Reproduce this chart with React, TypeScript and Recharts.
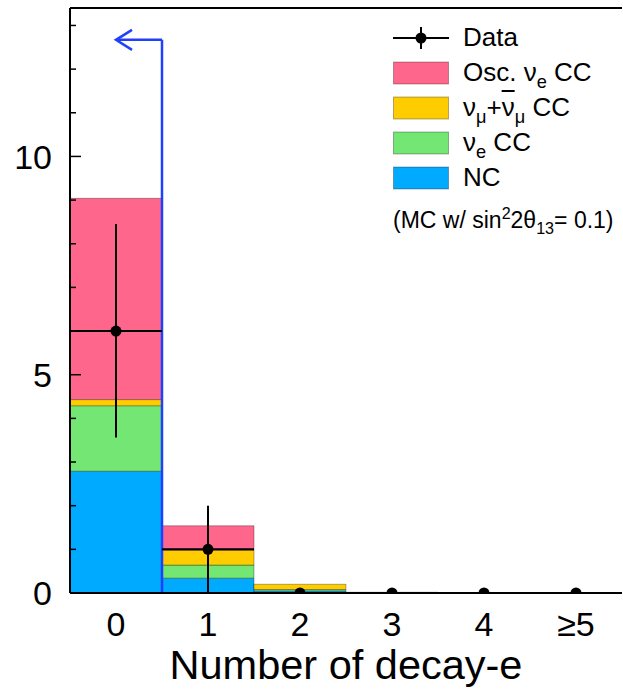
import React from "react";
import {
  ComposedChart,
  Bar,
  XAxis,
  YAxis,
  Scatter,
  ErrorBar,
  ReferenceLine,
  ReferenceDot,
  Legend,
} from "recharts";

// histogram bins (number of decay electrons)
const BINS = ["0", "1", "2", "3", "4", "≥5"];
const BIN_CENTERS = [0.5, 1.5, 2.5, 3.5, 4.5, 5.5];

// MC stack, bottom to top
const NC = [2.79, 0.34, 0.05, 0.004, 0.003, 0.002];
const NUE_CC = [1.5, 0.3, 0.03, 0.003, 0.002, 0.002];
const NUMU_CC = [0.14, 0.34, 0.12, 0.01, 0.006, 0.005];
const OSC_NUE = [4.61, 0.56, 0.0, 0.0, 0.0, 0.0];

// observed events
const DATA = [6, 1, 0, 0, 0, 0];
const ERR_LOW = [2.44, 1, 0, 0, 0, 0];
const ERR_HIGH = [2.45, 1, 0, 0, 0, 0];

const Y_MAX = 13.4;
const Y_TICKS = [0, 1, 2, 3, 4, 5, 6, 7, 8, 9, 10, 11, 12, 13];

// cut: keep events with <= 0 decay-e
const CUT_X = 1;
const CUT_TIP = 0.5;
const CUT_Y = 12.67;

const COLORS = {
  osc: "#ff668c",
  numu: "#ffcc00",
  nue: "#73e673",
  nc: "#00aaff",
  cut: "#2040ff",
};

const FONT = "'Liberation Sans', Arial, Helvetica, sans-serif";
const TICK_MARGIN = 18;

const chartData = BINS.map((bin, i) => ({
  bin,
  nc: NC[i],
  nue: NUE_CC[i],
  numu: NUMU_CC[i],
  osc: OSC_NUE[i],
}));

const pointData = BIN_CENTERS.map((x, i) => ({
  x,
  y: DATA[i],
  xerr: 0.5,
  yerr: [ERR_LOW[i], ERR_HIGH[i]],
}));

const Sub = ({ children }: { children: React.ReactNode }) => (
  <span style={{ fontSize: "0.7em", position: "relative", top: "0.4em" }}>
    {children}
  </span>
);
const Sup = ({ children }: { children: React.ReactNode }) => (
  <span style={{ fontSize: "0.7em", position: "relative", top: "-0.55em" }}>
    {children}
  </span>
);

const LEGEND_ORDER = ["y", "osc", "numu", "nue", "nc"];
const LEGEND_LABELS: Record<string, React.ReactNode> = {
  y: "Data",
  osc: (
    <>
      Osc. ν<Sub>e</Sub> CC
    </>
  ),
  numu: (
    <>
      ν<Sub>μ</Sub>+<span style={{ textDecoration: "overline" }}>ν</span>
      <Sub>μ</Sub> CC
    </>
  ),
  nue: (
    <>
      ν<Sub>e</Sub> CC
    </>
  ),
  nc: "NC",
};

function renderLegend(props: any) {
  const items = [...(props.payload || [])]
    .filter((p: any) => LEGEND_ORDER.includes(p.dataKey))
    .sort(
      (a: any, b: any) =>
        LEGEND_ORDER.indexOf(a.dataKey) - LEGEND_ORDER.indexOf(b.dataKey)
    );
  return (
    <div style={{ fontFamily: FONT, color: "#000" }}>
      {items.map((p: any) => (
        <div
          key={p.dataKey}
          style={{ display: "flex", alignItems: "center", height: 35 }}
        >
          <svg width={56} height={24}>
            {p.dataKey === "y" ? (
              <g>
                <line x1={0} x2={56} y1={12} y2={12} stroke="#000" strokeWidth={2} />
                <line x1={28} x2={28} y1={1} y2={23} stroke="#000" strokeWidth={2} />
                <circle cx={28} cy={12} r={5.5} fill="#000" />
              </g>
            ) : (
              <rect
                x={0.5}
                y={1}
                width={55}
                height={22}
                fill={p.color}
                stroke="rgba(0,0,0,0.3)"
              />
            )}
          </svg>
          <span style={{ marginLeft: 14, fontSize: 26, whiteSpace: "nowrap" }}>
            {LEGEND_LABELS[p.dataKey]}
          </span>
        </div>
      ))}
      <div style={{ marginTop: 12, fontSize: 23, whiteSpace: "nowrap" }}>
        (MC w/ sin<Sup>2</Sup>2θ<Sub>13</Sub>= 0.1)
      </div>
    </div>
  );
}

const YTick = (props: any) => {
  const { x, y, payload } = props;
  const v = payload.value;
  const major = v % 5 === 0;
  const axisX = x + TICK_MARGIN;
  return (
    <g>
      <line
        x1={axisX}
        x2={axisX + (major ? 11 : 6)}
        y1={y}
        y2={y}
        stroke="#000"
        strokeWidth={1.5}
      />
      {major && (
        <text
          x={x}
          y={y}
          dy="0.36em"
          textAnchor="end"
          fontSize={34}
          fill="#000"
          fontFamily={FONT}
        >
          {v}
        </text>
      )}
    </g>
  );
};

export default function App() {
  return (
    <div style={{ position: "absolute", left: 0, top: 0, background: "#fff" }}>
      <ComposedChart
        width={623}
        height={689}
        data={chartData}
        margin={{ top: 8, right: 1, left: 0, bottom: 0 }}
        barCategoryGap={0}
        barGap={0}
        style={{ fontFamily: FONT }}
      >
        <XAxis
          xAxisId="cat"
          dataKey="bin"
          height={96}
          tickLine={false}
          tickSize={0}
          tickMargin={19}
          tick={{ fontSize: 34, fill: "#000", fontFamily: FONT }}
          axisLine={{ stroke: "#000", strokeWidth: 2 }}
          label={{
            value: "Number of decay-e",
            position: "insideBottom",
            offset: 10,
            fontSize: 41.5,
            fill: "#000",
            fontFamily: FONT,
          }}
        />
        <XAxis
          xAxisId="num"
          dataKey="x"
          type="number"
          domain={[0, 6]}
          allowDataOverflow
          hide
        />
        <YAxis
          type="number"
          domain={[0, Y_MAX]}
          allowDataOverflow
          ticks={Y_TICKS}
          interval={0}
          width={70}
          tickLine={false}
          tickSize={0}
          tickMargin={TICK_MARGIN}
          tick={<YTick />}
          axisLine={{ stroke: "#000", strokeWidth: 2 }}
        />
        <Bar xAxisId="cat" dataKey="nc" name="NC" stackId="mc" fill={COLORS.nc} stroke="rgba(0,0,0,0.3)" strokeWidth={1} isAnimationActive={false} />
        <Bar xAxisId="cat" dataKey="nue" name="nue CC" stackId="mc" fill={COLORS.nue} stroke="rgba(0,0,0,0.3)" strokeWidth={1} isAnimationActive={false} />
        <Bar xAxisId="cat" dataKey="numu" name="numu CC" stackId="mc" fill={COLORS.numu} stroke="rgba(0,0,0,0.3)" strokeWidth={1} isAnimationActive={false} />
        <Bar xAxisId="cat" dataKey="osc" name="Osc. nue CC" stackId="mc" fill={COLORS.osc} stroke="rgba(0,0,0,0.3)" strokeWidth={1} isAnimationActive={false} />
        <ReferenceLine y={Y_MAX} xAxisId="num" stroke="#000" strokeWidth={2} />
        <ReferenceLine
          xAxisId="num"
          segment={[{ x: CUT_X, y: 0 }, { x: CUT_X, y: CUT_Y }]}
          stroke={COLORS.cut}
          strokeWidth={2.5}
        />
        <ReferenceLine
          xAxisId="num"
          segment={[{ x: CUT_X, y: CUT_Y }, { x: CUT_TIP, y: CUT_Y }]}
          stroke={COLORS.cut}
          strokeWidth={2.5}
        />
        <ReferenceDot
          xAxisId="num"
          x={CUT_TIP}
          y={CUT_Y}
          shape={(p: any) => (
            <polyline
              points={`${p.cx + 16},${p.cy - 10} ${p.cx},${p.cy} ${p.cx + 16},${p.cy + 10}`}
              fill="none"
              stroke={COLORS.cut}
              strokeWidth={2.5}
            />
          )}
        />
        <Scatter
          xAxisId="num"
          data={pointData}
          dataKey="y"
          name="Data"
          fill="#000"
          isAnimationActive={false}
          shape={(p: any) => <circle cx={p.cx} cy={p.cy} r={5.5} fill="#000" />}
        >
          <ErrorBar dataKey="xerr" direction="x" width={0} stroke="#000" strokeWidth={2} />
          <ErrorBar dataKey="yerr" direction="y" width={0} stroke="#000" strokeWidth={2} />
        </Scatter>
        <Legend
          layout="vertical"
          align="center"
          verticalAlign="middle"
          wrapperStyle={{ position: "absolute", left: 393, top: 20, width: 230 }}
          content={renderLegend}
        />
      </ComposedChart>
    </div>
  );
}
